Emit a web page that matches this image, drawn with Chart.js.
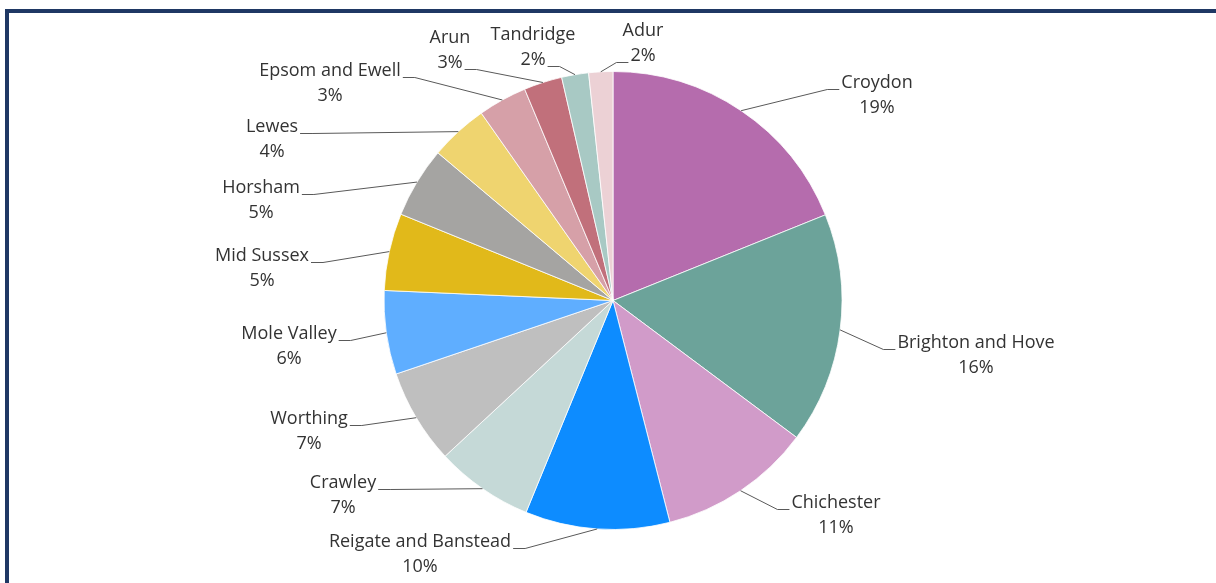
<!DOCTYPE html>
<html>
<head>
<meta charset="utf-8">
<script src="https://cdn.jsdelivr.net/npm/chart.js@4.4.1/dist/chart.umd.min.js"></script>
<style>
  body { margin: 0; background: #fff; overflow: hidden; }
  #wrap { position: relative; width: 1216px; height: 583px; }
  #frame { position: absolute; left: 5px; top: 9px; width: 1400px; height: 800px; border: 4px solid #1f3864; }
  #chart { position: absolute; left: 0; top: 0; }
</style>
</head>
<body>
<div id="wrap">
  <div id="frame"></div>
  <canvas id="chart" width="1216" height="583"></canvas>
</div>
<script>
// share of total by district
var districts = ['Croydon', 'Brighton and Hove', 'Chichester', 'Reigate and Banstead', 'Crawley',
                 'Worthing', 'Mole Valley', 'Mid Sussex', 'Horsham', 'Lewes', 'Epsom and Ewell',
                 'Arun', 'Tandridge', 'Adur'];
var shares = [18.9, 16.3, 10.8, 10.2, 6.9, 6.7, 5.9, 5.45, 5.0, 4.1, 3.45, 2.7, 1.9, 1.7];
var colours = ['#b56cad', '#6ca39a', '#d19bc9', '#0d8cff', '#c5d9d7', '#bfbfbf', '#5faeff',
               '#e1b91a', '#a5a4a2', '#efd46f', '#d6a0a8', '#c1707b', '#a8c9c4', '#ecd1d5'];

// where each data label sits: text centre x, first line y, which side the leader comes in, which line it meets
var labelLayout = [
    [877, 83, 'left', 0], [976, 343, 'left', 0], [836, 503, 'left', 0], [420, 542, 'right', 0],
    [343, 483, 'right', 0], [309, 419, 'right', 0], [289, 334, 'right', 0], [262, 256, 'right', 0],
    [261, 188, 'right', 0], [272, 127, 'right', 0], [330, 71, 'right', 0], [450, 38, 'right', 1],
    [533, 35, 'right', 1], [643, 31, 'left', 1]
];

var total = shares.reduce(function(a, b){ return a + b; }, 0);

var pieLabels = {
    id: 'pieLabels',
    afterDraw: function(chart){
        var ctx = chart.ctx;
        var arcs = chart.getDatasetMeta(0).data;
        ctx.save();
        ctx.font = '18px "Open Sans"';
        ctx.textAlign = 'center';
        ctx.textBaseline = 'middle';
        arcs.forEach(function(arc, i){
            var lay = labelLayout[i];
            var lines = [districts[i], Math.round(shares[i] / total * 100) + '%'];
            var mid = (arc.startAngle + arc.endAngle) / 2;
            var ax = arc.x + arc.outerRadius * Math.cos(mid);
            var ay = arc.y + arc.outerRadius * Math.sin(mid);
            var lineY = lay[1] + lay[3] * 25;
            var w = ctx.measureText(lines[lay[3]]).width;
            var endX, elbowX;
            if (lay[2] === 'left') {
                endX = lay[0] - w / 2 - 2;
                elbowX = endX - 12;
            } else {
                endX = lay[0] + w / 2 + 2;
                elbowX = endX + 12;
            }
            ctx.strokeStyle = '#595959';
            ctx.lineWidth = 1;
            ctx.beginPath();
            ctx.moveTo(ax, ay);
            ctx.lineTo(elbowX, lineY + 6.5);
            ctx.lineTo(endX, lineY + 6.5);
            ctx.stroke();
            ctx.fillStyle = '#333333';
            ctx.fillText(lines[0], lay[0], lay[1]);
            ctx.fillText(lines[1], lay[0], lay[1] + 25);
        });
        ctx.restore();
    }
};

var myChart = new Chart(document.getElementById('chart'), {
    type: 'pie',
    data: {
        labels: districts,
        datasets: [{
            data: shares,
            backgroundColor: colours,
            borderColor: '#ffffff',
            borderWidth: 0.8
        }]
    },
    options: {
        responsive: false,
        animation: false,
        radius: 229,
        layout: { padding: { top: 72, bottom: 54, left: 10, right: 0 } },
        plugins: {
            legend: { display: false },
            tooltip: { enabled: false }
        }
    },
    plugins: [pieLabels]
});
</script>
</body>
</html>
